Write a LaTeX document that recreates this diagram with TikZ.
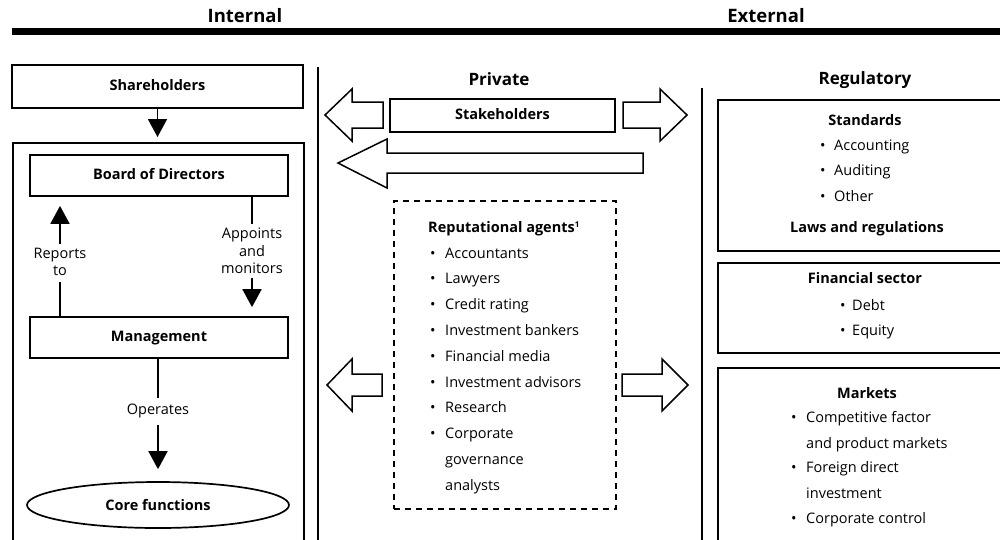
\documentclass[tikz,border=0pt]{standalone}
\usepackage{fontspec}
\setmainfont{Open Sans}
\usetikzlibrary{arrows.meta,shapes.geometric}

\begin{document}
\begin{tikzpicture}[x=1pt,y=-1pt,
  txt/.style={font=\fontsize{14.5}{17.5}\selectfont, inner sep=0pt, align=center},
  btxt/.style={font=\fontsize{14.5}{17.5}\selectfont\bfseries, inner sep=0pt, align=center},
  head/.style={font=\fontsize{18.5}{21}\selectfont\bfseries, inner sep=0pt},
  subhead/.style={font=\fontsize{17}{20}\selectfont\bfseries, inner sep=0pt},
  item/.style={font=\fontsize{14.5}{17.5}\selectfont, inner sep=0pt, anchor=base west},
  box/.style={draw, line width=1.7pt, font=\fontsize{14.5}{17.5}\selectfont\bfseries,
              text height=10pt, text depth=3pt, inner sep=0pt},
  frame/.style={draw, line width=1.7pt, inner sep=0pt, anchor=north west},
  link/.style={line width=1.8pt},
  arr/.style={line width=1.8pt, -{Triangle[width=19pt,length=18pt]}},
  blockarrow/.style={draw, line width=1.5pt, fill=white, line join=miter},
  divider/.style={line width=1.5pt}
]
\useasboundingbox (0,0) rectangle (1000,539);
\clip (0,0) rectangle (1000,539);

% column headings and rule
\node[head] (internal) at (245,16) {Internal};
\node[head] (external) at (766,16) {External};
\draw[line width=6.5pt] (12,31.5) -- (1000,31.5);

% column dividers
\coordinate (d1top) at (318,67);
\coordinate (d1bot) at (318,545);
\coordinate (d2top) at (702,88);
\coordinate (d2bot) at (702,545);
\draw[divider] (d1top) -- (d1bot);
\draw[divider] (d2top) -- (d2bot);

% ---------- Internal column ----------
\node[box, minimum width=291, minimum height=43] (share) at (157.5,86.5) {Shareholders};
\node[frame, minimum width=291, minimum height=420] (firm) at (12,142) {};
\draw[arr, shorten >=5pt] (share.south) -- (share.south |- firm.north);

\node[box, minimum width=258, minimum height=41] (board) at (159,175.5) {Board of Directors};
\node[box, minimum width=258, minimum height=41] (mgmt) at (159,337.5) {Management};
\node[ellipse, draw, line width=1.7pt, inner sep=0pt, minimum width=262, minimum height=46,
      font=\fontsize{14.5}{17.5}\selectfont\bfseries] (core) at (158,505) {Core functions};

\node[txt] (reports) at (60,262) {Reports\\to};
\draw[link] (mgmt.north -| reports) -- ([yshift=-6pt]reports.south);
\draw[arr, shorten >=9pt] ([yshift=4pt]reports.north) -- (board.south -| reports);

\node[txt] (appoints) at (252,251) {Appoints\\and\\monitors};
\draw[link] (board.south -| appoints) -- ([yshift=4pt]appoints.north);
\draw[arr, shorten >=9pt] ([yshift=-4pt]appoints.south) -- (mgmt.north -| appoints);

\node[txt] (operates) at (158,411) {Operates};
\draw[link] (mgmt.south -| operates) -- ([yshift=6pt]operates.north);
\draw[arr, shorten >=12pt] ([yshift=-7pt]operates.south) -- (core.north);

% ---------- Private column ----------
\node[subhead] (private) at (499,79) {Private};
\node[box, minimum width=225, minimum height=33] (stake) at (502.5,115.5) {Stakeholders};

\draw[blockarrow] (383,102) -- (352,102) -- (352,89) -- (325,115) -- (352,141)
  -- (352,128) -- (383,128) -- cycle;
\draw[blockarrow] (623,102) -- (660,102) -- (660,89) -- (687,115) -- (660,141)
  -- (660,128) -- (623,128) -- cycle;
\draw[blockarrow] (643,153) -- (387,153) -- (387,139) -- (338,163) -- (387,188)
  -- (387,173) -- (643,173) -- cycle;

\node[draw, dashed, dash pattern=on 6pt off 5pt, line width=1.6pt, inner sep=0pt,
      anchor=north west, minimum width=222, minimum height=308] (agents) at (393,200) {};
\node[btxt, anchor=base west] (agtitle) at (428,232)
  {Reputational agents\raisebox{5pt}{\fontsize{8}{8}\selectfont 1}};
\foreach \t [count=\i] in {Accountants, Lawyers, Credit rating, Investment bankers,
    Financial media, Investment advisors, Research, Corporate} {
  \node[item] (ag\i) at (445,258+25.8*\i-25.8) {\t};
  \node[item] (agb\i) at (430,258+25.8*\i-25.8) {•};
}
\node[item] (ag9) at (445,464.4) {governance};
\node[item] (ag10) at (445,490.2) {analysts};

\draw[blockarrow] (382,374) -- (352,374) -- (352,359) -- (327,385) -- (352,411)
  -- (352,396) -- (382,396) -- cycle;
\draw[blockarrow] (622,374) -- (662,374) -- (662,359) -- (688,385) -- (662,411)
  -- (662,396) -- (622,396) -- cycle;

% ---------- Regulatory column ----------
\node[subhead] (regulatory) at (865,80) {Regulatory};

\node[frame, minimum width=300, minimum height=151] (standards) at (717,99) {};
\node[btxt, anchor=base] (sttitle) at (865,125) {Standards};
\foreach \t/\y in {Accounting/150, Auditing/175, Other/201} {
  \node[item] at (820,\y) {•};
  \node[item] at (834,\y) {\t};
}
\node[btxt, anchor=base] (laws) at (867,232) {Laws and regulations};

\node[frame, minimum width=300, minimum height=90] (finance) at (717,262) {};
\node[btxt, anchor=base] (fintitle) at (865,283) {Financial sector};
\foreach \t/\y in {Debt/310, Equity/335} {
  \node[item] at (840,\y) {•};
  \node[item] at (852,\y) {\t};
}

\node[frame, minimum width=300, minimum height=200] (markets) at (717,367) {};
\node[btxt, anchor=base] (mktitle) at (867,398) {Markets};
\foreach \y in {422, 472, 523} {
  \node[item] at (791,\y) {•};
}
\foreach \t/\y in {Competitive factor/422, and product markets/448, Foreign direct/472,
    investment/498, Corporate control/523} {
  \node[item] at (806,\y) {\t};
}
\end{tikzpicture}
\end{document}
